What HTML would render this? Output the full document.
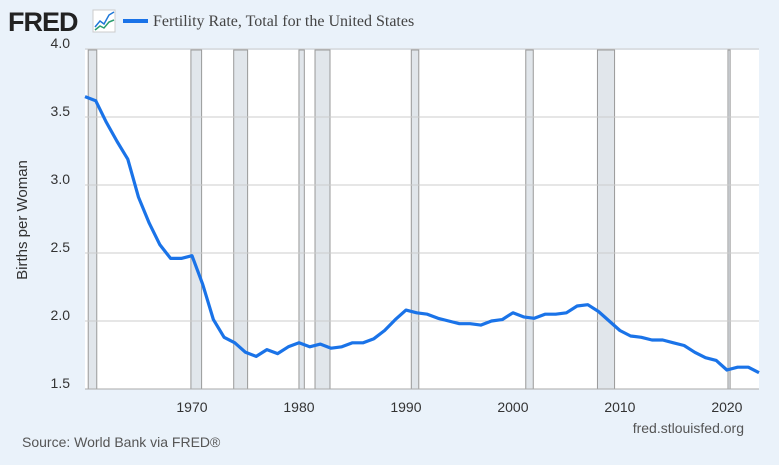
<!DOCTYPE html>
<html><head><meta charset="utf-8"><style>
body{margin:0;width:779px;height:465px;background:#eaf2fa;font-family:"Liberation Sans",sans-serif;overflow:hidden}
svg{display:block}
</style></head><body>
<svg width="779" height="465">
<text x="8" y="31" font-family="Liberation Sans" font-weight="bold" font-size="27" fill="#222" letter-spacing="-1">FRED</text>
<g><rect x="93" y="10" width="22" height="22" fill="#fff" stroke="#ccc"/><polyline points="95,27 100,21 104,24 109,15 114,12" fill="none" stroke="#1f78d8" stroke-width="1.5"/><polyline points="95,30 100,26 104,28 109,22 114,20" fill="none" stroke="#2a9d6e" stroke-width="1.5"/></g>
<line x1="123" y1="21" x2="148" y2="21" stroke="#1a73e8" stroke-width="4"/>
<text x="153" y="26" font-family="Liberation Serif" font-size="16" fill="#444">Fertility Rate, Total for the United States</text>
<rect x="85" y="50" width="674" height="339" fill="#fff"/>
<g id="rec"></g><g id="grid"></g><g id="xt"></g>
<path id="line" fill="none" stroke="#1a73e8" stroke-width="3.2" stroke-linejoin="round"/>
<line x1="85" y1="389" x2="759" y2="389" stroke="#aaa"/>
<text transform="translate(27,220) rotate(-90)" text-anchor="middle" font-size="15" fill="#333">Births per Woman</text>
<text x="22" y="447" font-size="14" fill="#555">Source: World Bank via FRED®</text>
<text x="744" y="433" text-anchor="end" font-size="14" fill="#555">fred.stlouisfed.org</text>
</svg>
<script>
const years=[];for(let y=1960;y<=2023;y++)years.push(y);
const values=[3.65,3.62,3.46,3.32,3.19,2.91,2.72,2.56,2.46,2.46,2.48,2.27,2.01,1.88,1.84,1.77,1.74,1.79,1.76,1.81,1.84,1.81,1.83,1.80,1.81,1.84,1.84,1.87,1.93,2.01,2.08,2.06,2.05,2.02,2.00,1.98,1.98,1.97,2.00,2.01,2.06,2.03,2.02,2.05,2.05,2.06,2.11,2.12,2.07,2.00,1.93,1.89,1.88,1.86,1.86,1.84,1.82,1.77,1.73,1.71,1.64,1.66,1.66,1.62];
const recStart=[1960.3,1969.9,1973.9,1980.0,1981.5,1990.5,2001.2,2007.9,2020.1];
const recEnd=[1961.1,1970.9,1975.2,1980.5,1982.9,1991.2,2001.9,2009.5,2020.3];
const yTicks=[1.5,2.0,2.5,3.0,3.5,4.0];
const xTicks=[1970,1980,1990,2000,2010,2020];
const NS="http://www.w3.org/2000/svg";
const X=v=>85+(v-1960)*(674/63), Y=v=>389-(v-1.5)*136;
function mk(t,a,p){const e=document.createElementNS(NS,t);for(const k in a)e.setAttribute(k,a[k]);p.appendChild(e);return e;}
const rec=document.getElementById('rec');
recStart.forEach((s,i)=>{const r=mk('rect',{x:X(s),y:50,width:X(recEnd[i])-X(s),height:339,fill:'#e1e6eb',stroke:'#999','stroke-width':1},rec);

});
const g=document.getElementById('grid');
yTicks.forEach(t=>{if(t>1.5){const l=mk('line',{x1:85,x2:759,y1:Y(t),y2:Y(t),stroke:'#ccc'},g);

}
const tx=mk('text',{x:70,y:Y(t)-1,'text-anchor':'end','font-size':14,fill:'#333'},g);tx.textContent=t.toFixed(1);

});
const xt=document.getElementById('xt');
xTicks.forEach(t=>{const tx=mk('text',{x:X(t),y:412,'text-anchor':'middle','font-size':14,fill:'#333'},xt);tx.textContent=t;

});
document.getElementById('line').setAttribute('d',values.map((v,i)=>(i?'L':'M')+X(years[i]).toFixed(1)+','+Y(v).toFixed(1)).join(''));
</script>
</body></html>
